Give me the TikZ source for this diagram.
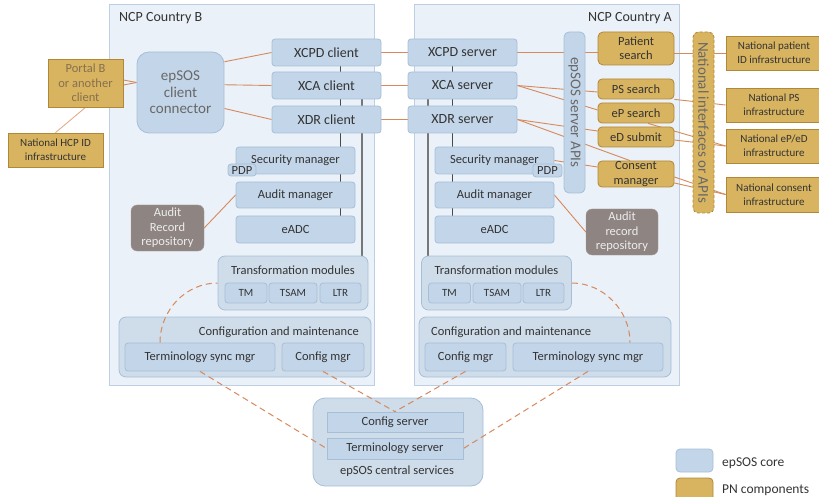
\documentclass[tikz,border=0pt]{standalone}
\usepackage{fontspec}
\setmainfont{Carlito}

\definecolor{corefill}{HTML}{C3D5E8}
\definecolor{coreline}{HTML}{A6BFD9}
\definecolor{grpfill}{HTML}{CFDCEA}
\definecolor{framefill}{HTML}{EBF1F8}
\definecolor{frameline}{HTML}{BCCFE3}
\definecolor{pnfill}{HTML}{D8B460}
\definecolor{pnline}{HTML}{B08838}
\definecolor{repofill}{HTML}{8E8482}
\definecolor{linkclr}{HTML}{D6895B}
\definecolor{busclr}{HTML}{4A4A4A}
\definecolor{txt}{HTML}{333333}
\definecolor{softtxt}{HTML}{686868}
\definecolor{portaltxt}{HTML}{86704F}

\pgfdeclarelayer{frames}
\pgfdeclarelayer{lines}
\pgfsetlayers{frames,lines,main}

\begin{document}
\begin{tikzpicture}[x=1pt, y=-1pt,
    every node/.style={inner sep=0pt, align=center, text=txt,
      font=\fontsize{12.5}{14.5}\selectfont},
    wh/.style 2 args={minimum width=#1pt, minimum height=#2pt},
    core/.style={draw=coreline, fill=corefill, line width=0.8pt, rounded corners=3pt},
    hdr/.style={core, font=\fontsize{14}{16}\selectfont},
    grp/.style={draw=coreline, fill=grpfill, line width=0.8pt, rounded corners=7pt},
    pn/.style={draw=pnline, fill=pnfill, line width=0.8pt, rounded corners=4pt},
    natl/.style={draw=pnline, fill=pnfill, line width=0.8pt},
    repo/.style={fill=repofill, draw=repofill!80!white, rounded corners=6pt, text=white!93!black},
    frame/.style={draw=frameline, fill=framefill, line width=1pt},
    link/.style={draw=linkclr, line width=0.9pt},
    sync/.style={draw=linkclr, line width=1pt, dash pattern=on 6pt off 4pt},
    bus/.style={draw=busclr, line width=0.8pt},
    trunk/.style={draw=busclr!75, line width=1.6pt}]

    \useasboundingbox (0,0) rectangle (819,497);

    % NCP frames
    \begin{pgfonlayer}{frames}
      \node[frame, wh={265}{380}] (ncpB) at (241.5,195) {};
      \node[frame, wh={265}{380}] (ncpA) at (546.5,195) {};
    \end{pgfonlayer}
    \node[anchor=west, font=\fontsize{14}{16}\selectfont] (ncpBname) at (119,18) {NCP Country B};
    \node[anchor=east, font=\fontsize{14}{16}\selectfont] (ncpAname) at (672,18) {NCP Country A};

    % Portal and client connector
    \node[natl, wh={75}{48}, text=portaltxt] (portal) at (85.5,83) {Portal B\\or another\\client};
    \node[natl, wh={95}{34}, font=\fontsize{11}{14}\selectfont] (hcpid) at (55.5,150) {National HCP ID\\infrastructure};
    \node[core, rounded corners=12pt, wh={87}{81}, text=softtxt,
      font=\fontsize{15}{16.5}\selectfont] (conn) at (180.5,92.5) {epSOS\\client\\connector};

    % Gateways
    \foreach \n/\y/\t in {xcpd/52.5/XCPD, xca/85.5/XCA, xdr/119.5/XDR} {
      \node[hdr, wh={109}{27}] (\n-c) at (326.5,\y) {\t\ client};
      \node[hdr, wh={109}{27}] (\n-s) at (462.5,\y) {\t\ server};
    }

    % Managers, both countries
    \foreach \s/\x in {B/295.5, A/494.5} {
      \node[core, wh={119}{27}] (sec\s) at (\x,160.5) {Security manager};
      \node[core, wh={119}{26}] (audit\s) at (\x,195) {Audit manager};
      \node[core, wh={119}{27}] (eadc\s) at (\x,229.5) {eADC};
    }
    \node[core, wh={28}{12}] (pdpB) at (242,170) {PDP};
    \node[core, wh={29}{13}] (pdpA) at (547.5,170.5) {PDP};

    \node[repo, wh={73}{46}] (repoB) at (167.5,228) {Audit\\Record\\repository};
    \node[repo, wh={72}{46}] (repoA) at (622,232) {Audit\\record\\repository};

    % Transformation modules
    \foreach \s/\x/\tm/\ts/\lt in {B/293/246/293/340.5, A/496.5/449.5/497/543.5} {
      \node[grp, wh={150}{54}] (trans\s) at (\x,283) {};
      \node (trans\s-lbl) at (\x,270) {Transformation modules};
      \node[core, wh={42}{20}, font=\fontsize{11}{13}\selectfont] (tm\s) at (\tm,293) {TM};
      \node[core, wh={48}{20}, font=\fontsize{11}{13}\selectfont] (tsam\s) at (\ts,293) {TSAM};
      \node[core, wh={41}{20}, font=\fontsize{11}{13}\selectfont] (ltr\s) at (\lt,293) {LTR};
    }

    % Configuration and maintenance
    \node[grp, wh={252}{60}] (confB) at (245,347) {};
    \node[anchor=east] (confBlbl) at (359,332) {Configuration and maintenance};
    \node[core, wh={150}{28}] (termB) at (200,357) {Terminology sync mgr};
    \node[core, wh={82}{28}] (cfgB) at (323,357) {Config mgr};

    \node[grp, wh={252}{60}] (confA) at (545,347) {};
    \node[anchor=west] (confAlbl) at (431,332) {Configuration and maintenance};
    \node[core, wh={81}{28}] (cfgA) at (465.5,357) {Config mgr};
    \node[core, wh={150}{28}] (termA) at (588,357) {Terminology sync mgr};

    % Central services
    \node[grp, rounded corners=12pt, wh={170}{88}] (central) at (398,442) {};
    \node[core, rounded corners=0pt, wh={136}{20}] (cfgsrv) at (395,422) {Config server};
    \node[core, rounded corners=0pt, wh={136}{21}] (termsrv) at (395,448.5) {Terminology server};
    \node (centrallbl) at (397,471) {epSOS central services};

    % Server APIs and PN components
    \node[core, rounded corners=5pt, wh={161}{21}, rotate=-90, text=softtxt,
      font=\fontsize{15}{16}\selectfont] (apis) at (574.5,112.5) {epSOS server APIs};
    \node[pn, rounded corners=5pt, wh={76}{33}, font=\fontsize{12.5}{14}\selectfont] (patsearch) at (636,48.5) {Patient\\search};
    \node[pn, wh={76}{20}] (pssearch) at (636,89) {PS search};
    \node[pn, wh={76}{20}] (epsearch) at (636,113) {eP search};
    \node[pn, wh={76}{20}] (edsubmit) at (636,137) {eD submit};
    \node[pn, wh={76}{26}, font=\fontsize{12.5}{15}\selectfont] (consent) at (636,174) {Consent\\manager};
    \node[pn, rounded corners=5pt, dash pattern=on 3pt off 2pt, wh={181}{21}, rotate=-90,
      text=softtxt, font=\fontsize{15}{16}\selectfont] (natif) at (703.5,122.5) {National interfaces or APIs};

    % National infrastructures
    \node[natl, wh={96}{34}, font=\fontsize{11}{14}\selectfont] (natpid) at (774,53) {National patient\\ID infrastructure};
    \node[natl, wh={96}{34}, font=\fontsize{11}{14}\selectfont] (natps) at (774,105) {National PS\\infrastructure};
    \node[natl, wh={96}{34}, font=\fontsize{11}{14}\selectfont] (natepd) at (774,146) {National eP/eD\\infrastructure};
    \node[natl, wh={96}{35}, font=\fontsize{11}{14}\selectfont] (natcon) at (774,194.5) {National consent\\infrastructure};

    % Legend
    \node[core, rounded corners=4pt, wh={37}{23}] (keycore) at (694.5,460.5) {};
    \node[anchor=west, font=\fontsize{13.5}{15}\selectfont] (keycorelbl) at (722,463) {epSOS core};
    \node[pn, wh={37}{23}] (keypn) at (694.5,489.5) {};
    \node[anchor=west, font=\fontsize{13.5}{15}\selectfont] (keypnlbl) at (722,490) {PN components};

    \begin{pgfonlayer}{lines}
      % internal buses
      \draw[bus] ([xshift=13.5pt]xcpd-c.south) coordinate (busB) -- (busB |- eadcB.north);
      \draw[trunk] ([xshift=35.5pt]xca-c.south) coordinate (trunkB) -- (trunkB |- transB.north);
      \draw[bus] ([xshift=-10.5pt]xcpd-s.south) coordinate (busA) -- (busA |- eadcA.north);
      \draw[trunk] ([xshift=-34.5pt]xca-s.south) coordinate (trunkA) -- (trunkA |- transA.north);

      % links
      \draw[link] ([yshift=3pt]portal.east) -- ([yshift=10pt]conn.west);
      \draw[link] ([yshift=-2pt]portal.east) -- ([yshift=10pt]conn.west);
      \draw[link, draw=linkclr!70] (portal.south) -- (hcpid.north);
      \draw[link] (conn.35) -- (xcpd-c.west);
      \draw[link] (conn.10) -- (xca-c.west);
      \draw[link] (conn.-20) -- (xdr-c.west);
      \foreach \n in {xcpd, xca, xdr}
        \draw[link] (\n-c) -- (\n-s);
      \draw[link] (auditB.west) -- (repoB.east);
      \draw[link] (auditA.east) -- (repoA.west);
      \draw[link] (xcpd-s.east) -- (xcpd-s.east -| patsearch.west);
      \draw[link] (natpid.west -| patsearch.east) -- (natpid.west);
      \draw[link] (xca-s.east) -- ([yshift=-3pt]pssearch.west);
      \draw[link] (xca-s.east) -- ([yshift=3pt]epsearch.west);
      \draw[link] (xdr-s.east) -- ([yshift=6pt]edsubmit.west);
      \draw[link] (xdr-s.east) -- ([xshift=-6pt]consent.north);
      \draw[link] (secA.east) -- ([yshift=7pt]consent.west);
      \draw[link] (pssearch.south east) -- (natps.west);
      \draw[link] ([xshift=12pt]epsearch.south) -- (natepd.west);
      \draw[link] ([yshift=-3pt]edsubmit.east) -- (natepd.west);
      \draw[link] ([yshift=-3pt]consent.east) -- (natcon.west);
      \draw[link] ([yshift=-9pt]consent.east) -- (natcon.west);
    \end{pgfonlayer}

    % Terminology and config synchronisation
    \draw[sync] ([xshift=-40pt]termB.north) .. controls (160,310) and (186,283) .. (transB.west);
    \draw[sync] (transA.east) .. controls (603,283) and (630,310) .. ([xshift=42pt]termA.north);
    \draw[sync] (cfgB.south) -- (cfgsrv.north);
    \draw[sync] (cfgA.south) -- (cfgsrv.north);
    \draw[sync] (termB.south) -- (termsrv.west);
    \draw[sync] (termA.south) -- (termsrv.east);
  \end{tikzpicture}
\end{document}
